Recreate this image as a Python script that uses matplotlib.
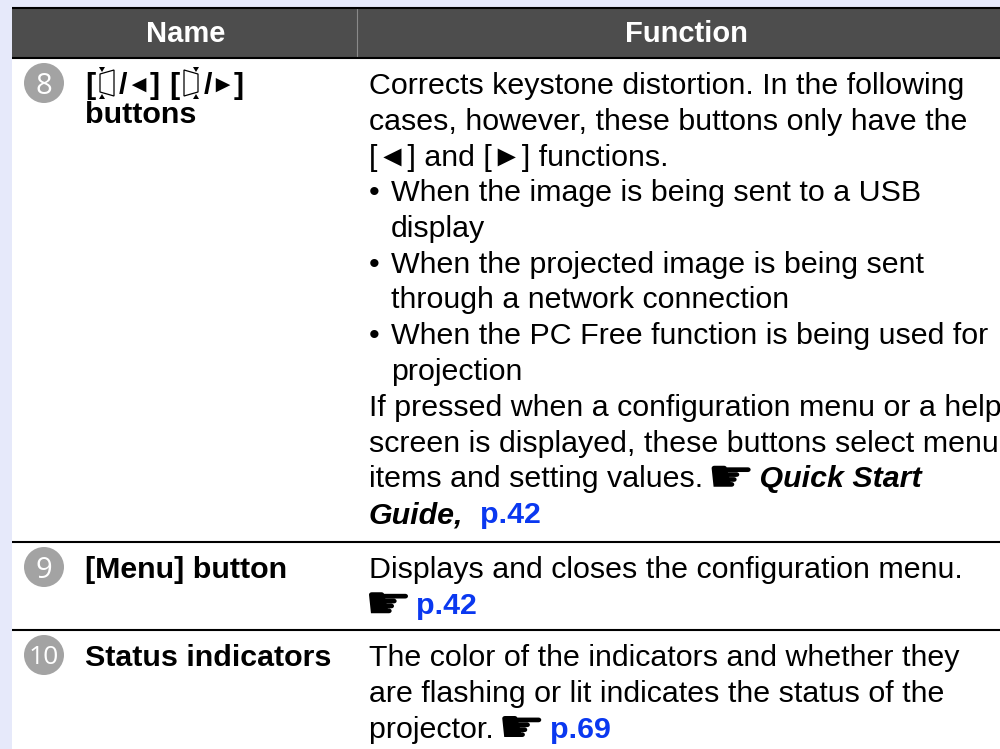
#!/usr/bin/python
# -*- coding: utf-8 -*-

import matplotlib
matplotlib.use('Agg')
import matplotlib.pyplot as plt
from matplotlib.font_manager import FontProperties
from matplotlib.patches import Circle, PathPatch, Polygon, Rectangle
from matplotlib.textpath import TextPath
from matplotlib.transforms import Affine2D

FONT = ['Liberation Sans', 'DejaVu Sans']
BLUE = '#0a38f0'
TEXT_X = 369
INDENT_X = 391
HAND_W = 39
HAND_H = 21

headers = ['Name', 'Function']
numbers = ['8', '9', '10']
names = ['buttons', '[Menu] button', 'Status indicators']

# each line is a list of (text, style) runs, style n / b / i / l / h / k
row8 = [
    [('Corrects keystone distortion. In the following', 'n')],
    [('cases, however, these buttons only have the', 'n')],
    [('[\u25c4] and [\u25ba] functions.', 'n')],
    [('\u2022', 'n'), ('When the image is being sent to a USB', 'n')],
    [('', 'n'), ('display', 'n')],
    [('\u2022', 'n'), ('When the projected image is being sent', 'n')],
    [('', 'n'), ('through a network connection', 'n')],
    [('\u2022', 'n'), ('When the PC Free function is being used for', 'n')],
    [('', 'n'), ('projection', 'n')],
    [('If pressed when a configuration menu or a help', 'n')],
    [('screen is displayed, these buttons select menu', 'n')],
    [('items and setting values. ', 'n'), ('\u261b', 'h'), (' Quick Start', 'i')],
    [('Guide,', 'i'), ('  ', 'n'), ('p.42', 'l')],
]
row9 = [
    [('Displays and closes the configuration menu.', 'n')],
    [('\u261b', 'h'), (' ', 'n'), ('p.42', 'l')],
]
row10 = [
    [('The color of the indicators and whether they', 'n')],
    [('are flashing or lit indicates the status of the', 'n')],
    [('projector. ', 'n'), ('\u261b', 'h'), (' ', 'n'), ('p.69', 'l')],
]
row_tops = [83, 567, 655]
rules = [7.5, 57.5, 541.5, 629.5]


def run_style(style, size):
    if style == 'b':
        return dict(weight='bold', color='black', fontsize=size)
    if style == 'k':
        return dict(weight='bold', color='black', fontsize=size * 0.8)
    if style == 'i':
        return dict(weight='bold', style='italic', color='black', fontsize=size)
    if style == 'l':
        return dict(weight='bold', color=BLUE, fontsize=size)
    return dict(color='black', fontsize=size)


def draw_hand(ax, x, y, glyph):
    # pointing hand, stretched to the flat shape of the original icon
    path = TextPath((0, 0), glyph, size=20, prop=FontProperties(family='DejaVu Sans'))
    box = path.get_extents()
    tr = (Affine2D().translate(-box.x0, -box.y0)
          .scale(HAND_W / box.width, -HAND_H / box.height)
          .translate(x, y + HAND_H / 2))
    ax.add_patch(PathPatch(path, fc='black', ec='none', transform=tr + ax.transData))


def draw_line(ax, fig, x, y, runs, size):
    # runs are placed one after the other, a bar is added when measuring
    # so that trailing spaces count
    renderer = fig.canvas.get_renderer()
    for text, style in runs:
        if style == 'h':
            draw_hand(ax, x, y, text)
            x += HAND_W
            continue
        kw = dict(va='center_baseline', ha='left')
        kw.update(run_style(style, size))
        ax.text(x, y, text, **kw)
        probe = ax.text(0, 0, text + '|', **kw)
        bar = ax.text(0, 0, '|', **kw)
        x += probe.get_window_extent(renderer).width - bar.get_window_extent(renderer).width
        probe.remove()
        bar.remove()


def keystone(ax, x, y, flip):
    # little keystone icon of the button label
    d = 1 if flip else -1
    ax.add_patch(Polygon([(x + d * 7, y - 9), (x - d * 7, y - 13), (x - d * 7, y + 13), (x + d * 7, y + 9)],
                         closed=True, fill=False, ec='black', lw=0.9))
    tx = x + d * 5
    for yy, sign in [(y - 14, 1), (y + 14, -1)]:
        ax.add_patch(Polygon([(tx - 3, yy - sign * 2), (tx + 3, yy - sign * 2), (tx, yy + sign * 3)],
                             closed=True, fc='black', ec='none'))


def main():
    plt.rcParams['font.family'] = FONT
    fig = plt.figure(figsize=(10, 7.49), dpi=100)
    fig.patch.set_facecolor('#e6e9fa')
    ax = fig.add_axes([0, 0, 1, 1])
    ax.set_xlim(0, 1000)
    ax.set_ylim(749, 0)
    ax.axis('off')

    ax.add_patch(Rectangle((12, 7), 988, 742, fc='white', ec='none'))
    ax.add_patch(Rectangle((12, 7), 988, 50, fc='#4d4d4d', ec='none'))
    ax.plot([356.5, 356.5], [8, 57], color='#8a8a8a', lw=0.8)
    for y in rules:
        ax.plot([12, 1000], [y, y], color='black', lw=1.5, solid_capstyle='butt')

    size = 21.9
    spacing = 35.75
    ax.text(186, 31, headers[0], color='white', weight='bold', fontsize=21, ha='center', va='center_baseline')
    ax.text(686, 31, headers[1], color='white', weight='bold', fontsize=21, ha='center', va='center_baseline')

    for top, num in zip(row_tops, numbers):
        ax.add_patch(Circle((44, top), 20, fc='#a3a3a3', ec='none'))
        ax.text(44, top, num, color='white', fontsize=21 if num != '10' else 19,
                family=['Open Sans', 'DejaVu Sans'], ha='center', va='center_baseline')

    # first name is built from single pieces with the icons drawn in between
    keystone(ax, 107, 83, False)
    keystone(ax, 191, 83, True)
    for x, piece, style in [(85, '[', 'b'), (119, '/', 'b'), (126, '\u25c4', 'k'), (150, ']', 'b'),
                            (169, '[', 'b'), (204, '/', 'b'), (210, '\u25ba', 'k'), (234, ']', 'b')]:
        draw_line(ax, fig, x, 83, [(piece, style)], size)
    draw_line(ax, fig, 85, 112, [(names[0], 'b')], size)
    draw_line(ax, fig, 85, row_tops[1], [(names[1], 'b')], size)
    draw_line(ax, fig, 85, row_tops[2], [(names[2], 'b')], size)

    for top, lines in zip(row_tops, [row8, row9, row10]):
        for i, runs in enumerate(lines):
            y = top + i * spacing
            if len(runs) == 2 and runs[0][0] in ('', '\u2022'):
                # bullet lines and their continuation share one indent
                draw_line(ax, fig, TEXT_X, y, runs[:1], size)
                draw_line(ax, fig, INDENT_X, y, runs[1:], size)
            else:
                draw_line(ax, fig, TEXT_X, y, runs, size)

    plt.savefig('out.png', facecolor=fig.get_facecolor())


if __name__ == '__main__':
    main()
